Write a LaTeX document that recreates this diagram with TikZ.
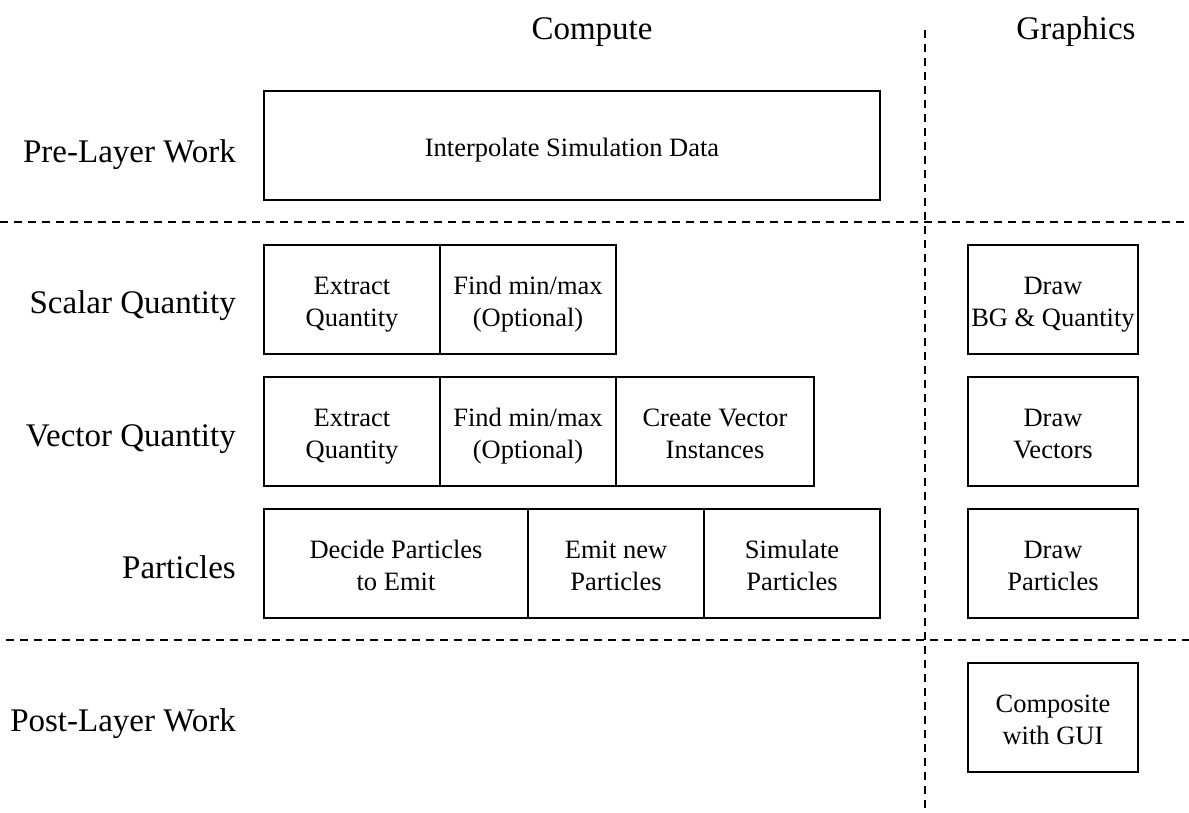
\documentclass[tikz,border=0pt]{standalone}
\usepackage{fontspec}
\setmainfont{Liberation Serif}
\newcommand{\bt}[1]{\raisebox{-5pt}[\height][\depth]{\begin{tabular}{@{}c@{}}#1\end{tabular}}}
\begin{document}
\begin{tikzpicture}[x=1pt,y=-1pt,
  box/.style={draw,line width=1.6pt,rectangle,inner sep=0pt,
    font=\fontsize{26.5}{32}\selectfont},
  rowlabel/.style={anchor=east,inner sep=0pt,font=\fontsize{33}{40}\selectfont},
  head/.style={inner sep=0pt,font=\fontsize{33}{40}\selectfont},
  sep/.style={line width=1.6pt,dash pattern=on 8pt off 6pt}]
\useasboundingbox (0,0) rectangle (1189,813);
% headers
\node[head] (compute) at (592,27) {\bt{Compute}};
\node[head] (graphics) at (1076,27) {\bt{Graphics}};
% row labels
\node[rowlabel] (pre) at (236,150) {\bt{Pre-Layer Work}};
\node[rowlabel] (scal) at (236,300) {\bt{Scalar Quantity}};
\node[rowlabel] (vec) at (236,433) {\bt{Vector Quantity}};
\node[rowlabel] (part) at (236,565) {\bt{Particles}};
\node[rowlabel] (post) at (236,718) {\bt{Post-Layer Work}};
% separators
\coordinate (h1a) at (0,222); \coordinate (h1b) at (1189,222);
\coordinate (h2a) at (6,640); \coordinate (h2b) at (1189,640);
\coordinate (v1a) at (925,30); \coordinate (v1b) at (925,813);
\draw[sep] (h1a) -- (h1b);
\draw[sep] (h2a) -- (h2b);
\draw[sep] (v1a) -- (v1b);
% pre-layer
\node[box,minimum width=616pt,minimum height=109pt] (interp) at (572,145.5) {\bt{Interpolate Simulation Data}};
% scalar
\node[box,minimum width=176pt,minimum height=109pt] (sext) at (352,299.5) {\bt{Extract\\Quantity}};
\node[box,minimum width=176pt,minimum height=109pt] (sfind) at (528,299.5) {\bt{Find min/max\\(Optional)}};
% vector
\node[box,minimum width=176pt,minimum height=109pt] (vext) at (352,431.5) {\bt{Extract\\Quantity}};
\node[box,minimum width=176pt,minimum height=109pt] (vfind) at (528,431.5) {\bt{Find min/max\\(Optional)}};
\node[box,minimum width=198pt,minimum height=109pt] (vcreate) at (715,431.5) {\bt{Create Vector\\Instances}};
% particles
\node[box,minimum width=264pt,minimum height=109pt] (pdec) at (396,563.5) {\bt{Decide Particles\\to Emit}};
\node[box,minimum width=176pt,minimum height=109pt] (pemit) at (616,563.5) {\bt{Emit new\\Particles}};
\node[box,minimum width=176pt,minimum height=109pt] (psim) at (792,563.5) {\bt{Simulate\\Particles}};
% graphics
\node[box,minimum width=170pt,minimum height=109pt] (gscal) at (1053,299.5) {\bt{Draw\\BG \& Quantity}};
\node[box,minimum width=170pt,minimum height=109pt] (gvec) at (1053,431.5) {\bt{Draw\\Vectors}};
\node[box,minimum width=170pt,minimum height=109pt] (gpart) at (1053,563.5) {\bt{Draw\\Particles}};
\node[box,minimum width=170pt,minimum height=109pt] (gcomp) at (1053,717.5) {\bt{Composite\\with GUI}};
\end{tikzpicture}
\end{document}
